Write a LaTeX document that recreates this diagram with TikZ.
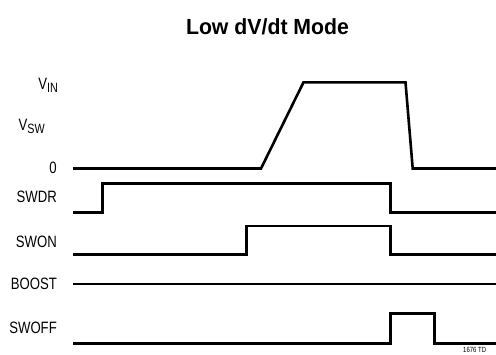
\documentclass[tikz,border=0pt]{standalone}
\usepackage{fontspec}
\setmainfont{Liberation Sans}[FakeStretch=0.8]
\newfontfamily\titlefont{Liberation Sans}[FakeStretch=0.97]
\begin{document}
\begin{tikzpicture}[x=1bp,y=-1bp,
  lbl/.style={anchor=base east,inner sep=0pt,font=\fontsize{16.5}{16.5}\selectfont},
  wave/.style={line width=2.6bp,line join=miter}]
\useasboundingbox (0,0) rectangle (496,354);
\newcommand{\sbs}[1]{\raisebox{-3bp}{\fontsize{13.5}{13.5}\selectfont #1}}
\node[anchor=base,inner sep=0pt,font=\titlefont\bfseries\fontsize{22}{22}\selectfont] (title) at (267.5,34.7) {Low dV/dt Mode};
\node[lbl] (vin) at (58,89) {V\sbs{IN}};
\node[lbl] (vsw) at (45,130) {V\sbs{SW}};
\node[lbl] (zero) at (57,173) {0};
\node[lbl] (swdr) at (57,202) {SWDR};
\node[lbl] (swon) at (57,247) {SWON};
\node[lbl] (boost) at (57,289) {BOOST};
\node[lbl] (swoff) at (57,333) {SWOFF};
\node[anchor=base west,inner sep=0pt,font=\fontsize{7.5}{7.5}\selectfont] (td) at (463,352.5) {1676 TD};
% VSW
\draw[wave] (73,168.5) -- (261,168.5) -- (303.5,82.3) -- (405.5,82.3) -- (412.7,168.5) -- (497,168.5);
% SWDR
\draw[wave] (73,212.3) -- (102.7,212.3) -- (102.7,183.3) -- (390.7,183.3) -- (390.7,212.3) -- (497,212.3);
% SWON
\draw[wave] (73,254.3) -- (246.5,254.3) -- (246.5,226) -- (390.7,226) -- (390.7,254.3) -- (497,254.3);
% BOOST
\draw[wave] (73,284) -- (497,284);
% SWOFF
\draw[wave] (73,343.3) -- (390.7,343.3) -- (390.7,313.3) -- (434.3,313.3) -- (434.3,343.3) -- (497,343.3);
\end{tikzpicture}
\end{document}
